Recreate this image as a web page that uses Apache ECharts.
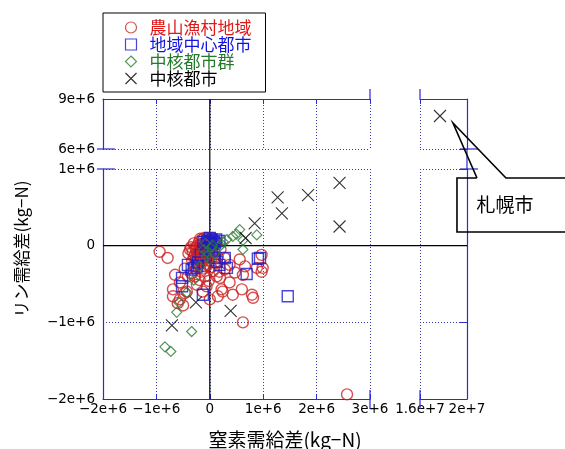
<!DOCTYPE html>
<html><head><meta charset="utf-8">
<script src="https://cdn.jsdelivr.net/npm/echarts@6/dist/echarts.min.js"></script>
<style>html,body{margin:0;padding:0;background:#fff}#c{width:565px;height:449px}</style>
</head><body><div id="c"></div>
<script>
// ---------- data ----------
const seriesNames = ['農山漁村地域', '地域中心都市', '中核都市群', '中核都市'];
const xTitle = '窒素需給差(kg−N)';
const yTitle = 'リン需給差(kg−N)';
const calloutText = '札幌市';

// 農山漁村地域 (red circles): [nitrogen balance, phosphorus balance]
const rural = [
  [-0.94e6,-0.08e6],[-0.79e6,-0.16e6],[0.62e6,-1.00e6],[0.81e6,-0.68e6],[2.57e6,-1.94e6],[0.99e6,-0.29e6],[0.97e6,-0.12e6],
  [0.66e6,-0.27e6],[0.88e6,-0.29e6],[0.62e6,-0.38e6],[0.97e6,-0.34e6],[0.19e6,-0.42e6],[0.37e6,-0.48e6],[0.24e6,-0.60e6],
  [0.60e6,-0.57e6],[0.79e6,-0.64e6],[0.43e6,-0.64e6],[0.22e6,-0.57e6],[0.47e6,-0.35e6],[0.28e6,-0.31e6],[0.37e6,-0.25e6],
  [0.56e6,-0.18e6],[0.13e6,-0.40e6],[0.06e6,-0.33e6],[0.15e6,-0.66e6],[0.00e6,-0.70e6],[-0.06e6,-0.53e6],
  [-0.69e6,-0.66e6],[-0.56e6,-0.70e6],[-0.47e6,-0.62e6],[-0.65e6,-0.38e6],[-0.56e6,-0.48e6],[-0.69e6,-0.57e6],[-0.43e6,-0.60e6],
  [-0.24e6,-0.51e6],[-0.13e6,-0.60e6],[-0.19e6,-0.45e6],[-0.28e6,-0.40e6],[-0.41e6,-0.40e6],[-0.47e6,-0.30e6],[-0.24e6,-0.21e6],
  [-0.09e6,-0.27e6],[-0.09e6,-0.40e6],[-0.60e6,-0.75e6],[-0.50e6,-0.78e6],
  [-0.32e6,-0.08e6],[-0.37e6,-0.05e6],[-0.35e6,-0.02e6],[-0.30e6,0.03e6],[-0.25e6,-0.05e6],[-0.20e6,0.05e6],[-0.15e6,0.08e6],
  [-0.10e6,0.10e6],[-0.22e6,-0.10e6],[-0.30e6,-0.15e6],[-0.18e6,-0.20e6],[-0.08e6,-0.15e6],[0.00e6,0.08e6],[0.05e6,0.10e6],
  [0.12e6,0.05e6],[0.08e6,-0.08e6],[-0.04e6,-0.25e6],[-0.12e6,-0.30e6],[-0.33e6,-0.20e6],[-0.40e6,-0.10e6],[-0.15e6,-0.10e6],
  [-0.05e6,-0.12e6],[0.05e6,-0.10e6],[-0.28e6,-0.12e6],[0.10e6,-0.22e6],[-0.02e6,-0.02e6],[-0.08e6,0.02e6],[-0.12e6,-0.02e6],
  [0.02e6,-0.04e6],[0.15e6,-0.15e6],[0.28e6,-0.16e6],[0.20e6,-0.05e6],
  [-0.27e6,-0.03e6],[-0.23e6,0.00e6],[-0.19e6,-0.03e6],[-0.16e6,0.02e6],[-0.13e6,-0.06e6],[-0.10e6,0.04e6],[-0.07e6,-0.08e6],
  [-0.04e6,0.04e6],[-0.01e6,-0.09e6],[-0.24e6,-0.09e6],[-0.20e6,-0.13e6],[-0.16e6,-0.16e6],[-0.12e6,-0.12e6],[-0.26e6,-0.17e6],
  [-0.21e6,-0.24e6],[-0.14e6,-0.20e6],[-0.06e6,-0.19e6],[0.03e6,-0.16e6],[0.07e6,0.02e6],[-0.18e6,0.09e6],[-0.06e6,0.10e6],
  [0.10e6,-0.14e6],[-0.29e6,-0.26e6],[-0.17e6,-0.34e6],[-0.35e6,-0.36e6],[0.02e6,-0.28e6],[0.18e6,-0.34e6],[-0.02e6,-0.46e6]
];
// 地域中心都市 (blue squares)
const regional = [
  [1.46e6,-0.66e6],[0.94e6,-0.16e6],[0.90e6,-0.17e6],[0.69e6,-0.37e6],[0.28e6,-0.16e6],[0.32e6,-0.29e6],[0.13e6,-0.21e6],
  [0.09e6,-0.16e6],[-0.13e6,-0.64e6],[-0.24e6,-0.27e6],[-0.30e6,-0.29e6],[-0.41e6,-0.25e6],[-0.52e6,-0.42e6],[-0.52e6,-0.53e6],
  [-0.34e6,-0.31e6],[-0.22e6,-0.22e6],[-0.06e6,0.02e6],[0.02e6,0.04e6],[0.06e6,0.02e6],[-0.02e6,-0.02e6],[0.10e6,0.03e6],
  [0.04e6,-0.05e6],[-0.08e6,-0.04e6],[0.18e6,-0.25e6],[-0.17e6,-0.12e6],[0.00e6,0.10e6],[-0.04e6,0.06e6],[0.12e6,0.08e6],
  [0.18e6,0.06e6],[-0.12e6,0.05e6],[0.03e6,0.08e6],[0.08e6,0.05e6],[-0.01e6,0.03e6]
];
// 中核都市群 (green diamonds)
const coreGroup = [
  [0.56e6,0.21e6],[0.43e6,0.12e6],[0.32e6,0.08e6],[0.62e6,0.07e6],[0.62e6,-0.05e6],[0.88e6,0.14e6],[0.50e6,0.15e6],
  [-0.62e6,-0.87e6],[-0.34e6,-1.12e6],[-0.84e6,-1.32e6],[-0.73e6,-1.38e6],[-0.58e6,-0.74e6],[-0.43e6,-0.61e6],
  [-0.19e6,-0.27e6],[-0.06e6,-0.14e6],[0.05e6,0.00e6],[-0.05e6,-0.08e6],[0.10e6,-0.10e6],[0.20e6,0.00e6],
  [-0.12e6,-0.05e6],[0.00e6,-0.18e6],[0.25e6,0.05e6],[-0.30e6,-0.45e6],[0.02e6,-0.03e6],[-0.08e6,0.03e6]
];
// 中核都市 (black crosses)
const core = [
  [2.43e6,0.82e6],[1.84e6,0.66e6],[1.27e6,0.63e6],[1.35e6,0.42e6],[0.84e6,0.29e6],[2.43e6,0.25e6],[0.67e6,0.10e6],
  [0.39e6,-0.85e6],[-0.26e6,-0.74e6],[-0.71e6,-1.04e6]
];
const sapporo = [[1.77e7, 7.98e6]];

// axis ranges (broken axes)
const xLeftRange = [-2e6, 3e6], xLeftStep = 1e6;
const xRightRange = [1.6e7, 2e7], xRightStep = 4e6;
const yLowRange = [-2e6, 1e6], yLowStep = 1e6;
const yHighRange = [6e6, 9e6], yHighStep = 3e6;

// ---------- style ----------
const RED = '#cc2222', BLUE = '#1a1acc', GREEN = '#2e7a36', BLACK = '#000';
const textColors = ['#e01818', '#1414e0', '#237a2a', '#000'];
const AXC = '#2b2bd0', GRC = '#3838b0';
const LATIN = '"DejaVu Sans", sans-serif';
const CJK = '"Noto Sans CJK JP", sans-serif';

function sci(v) {
  if (v === 0) return '0';
  const s = v < 0 ? '−' : '';
  const a = Math.abs(v);
  const e = Math.floor(Math.log10(a) + 1e-9);
  const m = +(a / Math.pow(10, e)).toFixed(3);
  return s + m + 'e+' + e;
}

const grids = [
  {left: 103, top: 169, width: 267, height: 230},
  {left: 103, top: 99, width: 267, height: 50},
  {left: 420, top: 169, width: 47, height: 230},
  {left: 420, top: 99, width: 47, height: 50}
];
const split = {show: true, showMinLine: true, showMaxLine: true, lineStyle: {color: GRC, type: [1, 2], width: 1}};
function xAx(g, range, step, pos, showLabel) {
  return {
    type: 'value', gridIndex: g, position: pos, min: range[0], max: range[1], interval: step,
    axisLine: {show: true, onZero: false, lineStyle: {color: AXC, width: 1.2}},
    axisTick: {show: true, inside: true, length: 5, lineStyle: {color: AXC}},
    axisLabel: {show: showLabel, formatter: sci, margin: 3, fontSize: 13.5, color: '#000', fontFamily: LATIN},
    splitLine: split
  };
}
function yAx(g, range, step, pos, showLabel) {
  return {
    type: 'value', gridIndex: g, position: pos, min: range[0], max: range[1], interval: step,
    axisLine: {show: true, onZero: false, lineStyle: {color: AXC, width: 1.2}},
    axisTick: {show: pos === 'right', inside: true, length: 7, lineStyle: {color: AXC}},
    axisLabel: {show: showLabel, formatter: sci, margin: 8, fontSize: 13.5, color: '#000', fontFamily: LATIN},
    splitLine: split
  };
}
function sc(name, data, g, symbol, size, color, bw) {
  return {
    type: 'scatter', name, data, xAxisIndex: g, yAxisIndex: g, symbol, symbolSize: size,
    itemStyle: {color: 'none', borderColor: color, borderWidth: bw},
    emphasis: {disabled: true}, silent: true
  };
}
const CROSS = 'path://M0,0L10,10M10,0L0,10';

const option = {
  animation: false,
  backgroundColor: '#fff',
  grid: grids,
  xAxis: [
    xAx(0, xLeftRange, xLeftStep, 'bottom', true),
    xAx(1, xLeftRange, xLeftStep, 'top', false),
    xAx(2, xRightRange, xRightStep, 'bottom', true),
    xAx(3, xRightRange, xRightStep, 'top', false)
  ],
  yAxis: [
    yAx(0, yLowRange, yLowStep, 'left', true),
    yAx(1, yHighRange, yHighStep, 'left', true),
    yAx(2, yLowRange, yLowStep, 'right', false),
    yAx(3, yHighRange, yHighStep, 'right', false)
  ],
  legend: {
    orient: 'vertical', left: 103, top: 13, padding: [6, 14, 5, 20], itemGap: 0,
    itemWidth: 11, itemHeight: 11, borderColor: '#000', borderWidth: 1, selectedMode: false,
    itemStyle: {borderWidth: 1.2},
    textStyle: {fontSize: 17, lineHeight: 17, fontFamily: CJK, padding: [0, 0, 0, 8]},
    data: seriesNames.map((n, i) => ({name: n, textStyle: {color: textColors[i]}}))
  },
  series: [
    sc(seriesNames[0], rural, 0, 'circle', 11, RED, 1.4),
    sc(seriesNames[1], regional, 0, 'rect', 11, BLUE, 1.4),
    sc(seriesNames[2], coreGroup, 0, 'diamond', 10, GREEN, 1.2),
    sc(seriesNames[3], core, 0, CROSS, 12, BLACK, 1.1),
    sc(seriesNames[3], sapporo, 3, CROSS, 12, BLACK, 1.1)
  ]
};

const chart = echarts.init(document.getElementById('c'));
chart.setOption(option);

const px = (g, x, y) => chart.convertToPixel({gridIndex: g}, [x, y]);
const o = px(0, 0, 0);
const aBL = px(0, xLeftRange[0], yLowRange[0]);
const aTR = px(0, xLeftRange[1], yLowRange[1]);
const bTL = px(1, xLeftRange[0], yHighRange[1]);
const bBR = px(1, xLeftRange[1], yHighRange[0]);
const cBR = px(2, xRightRange[1], yLowRange[0]);
const cTL = px(2, xRightRange[0], yLowRange[1]);
const dTR = px(3, xRightRange[1], yHighRange[1]);
const dBL = px(3, xRightRange[0], yHighRange[0]);

function line(x1, y1, x2, y2, color, w) {
  return {type: 'line', silent: true, z: 1, shape: {x1, y1, x2, y2}, style: {stroke: color, lineWidth: w || 1.2}};
}
const s = px(3, sapporo[0][0], sapporo[0][1]);
const tip = [s[0] + 13, s[1] + 7];
const call = [
  [tip[0] + 24, tip[1] + 55], tip, [tip[0] + 53, tip[1] + 55], [tip[0] + 118, tip[1] + 55],
  [tip[0] + 118, tip[1] + 109], [tip[0] + 4, tip[1] + 109], [tip[0] + 4, tip[1] + 55], [tip[0] + 24, tip[1] + 55]
];

chart.setOption({
  graphic: [
    line(aBL[0], o[1], cBR[0], o[1], '#000', 1.2),
    line(o[0], bTL[1], o[0], aBL[1], '#000', 1.2),
    line(dTR[0], dBL[1], dTR[0], cTL[1], AXC),
    line(bBR[0], bTL[1] - 10, bBR[0], bTL[1], AXC),
    line(dBL[0], dTR[1] - 10, dBL[0], dTR[1], AXC),
    line(aTR[0], aBL[1] - 9, aTR[0], aBL[1] + 10, AXC),
    line(cTL[0], cBR[1] - 9, cTL[0], cBR[1] + 10, AXC),
    line(bTL[0] - 6, bBR[1], bTL[0] + 12, bBR[1], AXC),
    line(aBL[0] - 6, aTR[1], aBL[0] + 12, aTR[1], AXC),
    line(dTR[0] - 7, dBL[1], dTR[0] + 11, dBL[1], AXC),
    line(cBR[0] - 7, cTL[1], cBR[0] + 11, cTL[1], AXC),
    {type: 'polyline', silent: true, z: 5, shape: {points: call}, style: {stroke: '#000', lineWidth: 1.6, fill: null}},
    {type: 'text', silent: true, z: 5, x: tip[0] + 52, y: tip[1] + 82,
      style: {text: calloutText, font: '19px ' + CJK, fill: '#000', align: 'center', verticalAlign: 'middle'}},
    {type: 'text', silent: true, x: (aBL[0] + cBR[0]) / 2, y: 440,
      style: {text: xTitle, font: '19px ' + CJK, fill: '#000', align: 'center', verticalAlign: 'middle'}},
    {type: 'text', silent: true, x: 22, y: (bTL[1] + aBL[1]) / 2, rotation: Math.PI / 2,
      style: {text: yTitle, font: '17px ' + CJK, fill: '#000', align: 'center', verticalAlign: 'middle'}}
  ]
});
</script></body></html>
